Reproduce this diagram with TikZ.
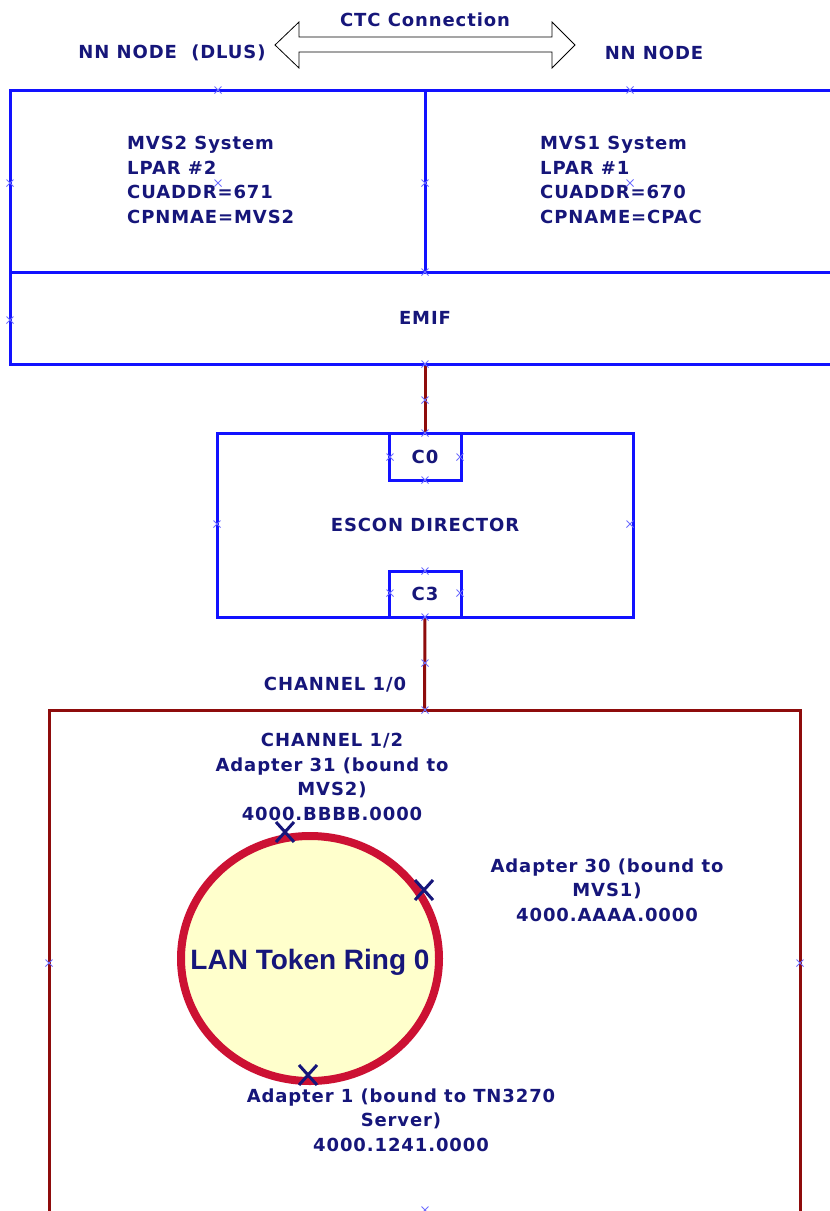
\documentclass[tikz,border=0pt]{standalone}
\usepackage{fontspec}
\usepackage{tikz}
\usetikzlibrary{shapes.geometric}
\setmainfont{DejaVu Sans}
\newfontfamily\lblfont{DejaVu Sans}[LetterSpace=5]
\newfontfamily\ringfont{Liberation Sans}
\definecolor{navytxt}{HTML}{16167A}
\definecolor{boxblue}{HTML}{1212FF}
\definecolor{chanred}{HTML}{8E0C0C}
\definecolor{ringred}{HTML}{CC1133}
\definecolor{ringfill}{HTML}{FFFFCC}
\definecolor{handle}{HTML}{6E6EFF}

\begin{document}
\begin{tikzpicture}[x=1pt, y=-1pt,
box_style/.style={rectangle,draw=boxblue,line width=3pt,inner sep=0pt,text=navytxt,font=\lblfont\bfseries\fontsize{18}{24.5}\selectfont},
chan_style/.style={draw=chanred,line width=3pt},
txt_style/.style={align=center,inner sep=0pt,text=navytxt,font=\lblfont\bfseries\fontsize{18}{24.5}\selectfont},
ring_style/.style={ellipse,draw=ringred,line width=8pt,fill=ringfill,inner sep=0pt},
handle_style/.style={draw=handle,line width=0.8pt},
mark_style/.style={draw=navytxt,line width=3pt}]
\clip (0,0) rectangle (830,1211);
\fill[white] (0,0) rectangle (830,1211);

% CTC link between the two nodes
\draw[black,fill=white,line width=0.8pt] (275,45) -- (299,22) -- (299,37) -- (552,37) -- (552,22)
  -- (575,45) -- (552,68) -- (552,52) -- (299,52) -- (299,68) -- cycle;
\node[txt_style] (ctc) at (425,20) {CTC Connection};
\node[txt_style] (nndlus) at (172,53) {NN NODE~~(DLUS)};
\node[txt_style] (nn) at (654,53) {NN NODE};

% host boxes
\node[box_style,minimum width=415,minimum height=182] (mvs2) at (217.5,181) {};
\node[box_style,minimum width=415,minimum height=182] (mvs1) at (632.5,181) {};
\node[box_style,minimum width=830,minimum height=92] (emif) at (425,318) {EMIF};
\node[txt_style,align=left,anchor=west] (mvs2txt) at (127,180) {MVS2 System\\LPAR \#2\\CUADDR=671\\CPNMAE=MVS2};
\node[txt_style,align=left,anchor=west] (mvs1txt) at (540,180) {MVS1 System\\LPAR \#1\\CUADDR=670\\CPNAME=CPAC};

% escon director
\node[box_style,minimum width=416,minimum height=184] (escon) at (425,525) {ESCON DIRECTOR};
\node[box_style,minimum width=72,minimum height=47] (c0) at (425,456.5) {C0};
\node[box_style,minimum width=72,minimum height=46] (c3) at (425,594) {C3};

% LAN
\node[rectangle,draw=chanred,line width=3pt,minimum width=751,minimum height=520] (lan) at (424.5,970) {};
\node[ring_style,minimum width=258,minimum height=245] (ring) at (310,958.5) {};
\node[inner sep=0pt,text=navytxt,font=\ringfont\bfseries\fontsize{28}{30}\selectfont] (ringlbl) at (310,962) {LAN Token Ring 0};

\draw[chan_style] (emif.south) -- (c0.north);
\draw[chan_style] (c3.south) -- (lan.north);

\node[txt_style] (chan10) at (335,685) {CHANNEL 1/0};
\node[txt_style] (ad31) at (332,777) {CHANNEL 1/2\\Adapter 31 (bound to\\MVS2)\\4000.BBBB.0000};
\node[txt_style] (ad30) at (607,890) {Adapter 30 (bound to\\MVS1)\\4000.AAAA.0000};
\node[txt_style] (ad1) at (401,1120) {Adapter 1 (bound to TN3270\\Server)\\4000.1241.0000};

% adapter marks on the ring
\foreach \mx/\my in {285/832, 424/890, 308/1075}
  \draw[mark_style] (\mx-9,\my-10) -- (\mx+9,\my+10) (\mx-9,\my+10) -- (\mx+9,\my-10);

% selection handles
\foreach \hx/\hy in {218/90, 630/90, 10/183, 218/183, 425/183, 630/183, 425/272, 10/320, 425/364,
  425/400, 425/433, 390/457, 460/457, 425/480, 217/524, 630/524, 425/571, 390/593, 460/593,
  425/617, 425/663, 425/710, 49/963, 800/963, 425/1210}
  \draw[handle_style] (\hx-3.5,\hy-3.5) -- (\hx+3.5,\hy+3.5) (\hx-3.5,\hy+3.5) -- (\hx+3.5,\hy-3.5);
\end{tikzpicture}
\end{document}
